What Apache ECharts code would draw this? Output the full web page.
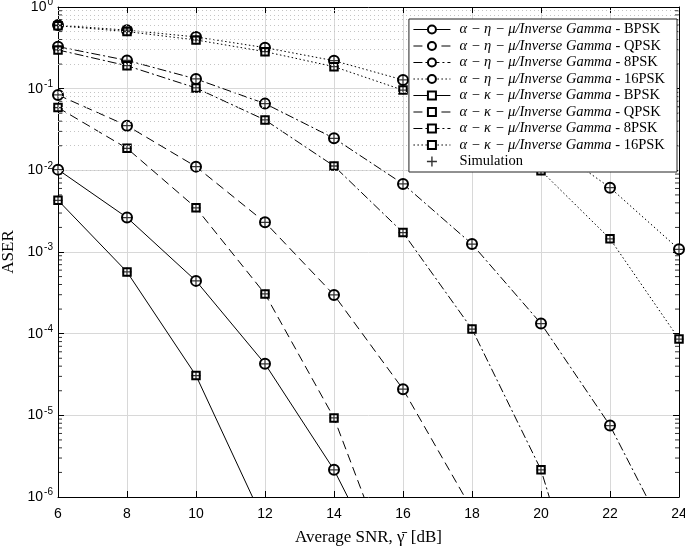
<!DOCTYPE html>
<html>
<head>
<meta charset="utf-8">
<script src="https://cdn.jsdelivr.net/npm/echarts@6/dist/echarts.min.js"></script>
<style>
html, body { margin: 0; padding: 0; background: #fff; }
#chart { width: 685px; height: 550px; }
</style>
</head>
<body>
<div id="chart"></div>
<script>
// average SNR in dB
const snr = [6, 8, 10, 12, 14, 16, 18, 20, 22, 24];
const yExponents = [-6, -5, -4, -3, -2, -1, 0];

const etaModel = 'α − η − μ/Inverse Gamma';
const kappaModel = 'α − κ − μ/Inverse Gamma';

// ASER, alpha-eta-mu / inverse gamma
const etaBPSK = [1.02e-2, 2.64e-3, 4.43e-4, 4.27e-5, 2.15e-6, 4.6e-8];
const etaQPSK = [8.37e-2, 3.52e-2, 1.11e-2, 2.31e-3, 2.98e-4, 2.09e-5, 7.0e-7];
const eta8PSK = [0.327, 0.222, 0.1315, 6.56e-2, 2.47e-2, 6.82e-3, 1.25e-3, 1.33e-4, 7.5e-6, 1.7e-7];
const eta16PSK = [0.60, 0.52, 0.43, 0.318, 0.22, 0.128, 0.064, 0.0245, 6.14e-3, 1.08e-3];

// ASER, alpha-kappa-mu / inverse gamma
const kappaBPSK = [4.3e-3, 5.7e-4, 3.07e-5, 4.7e-7];
const kappaQPSK = [5.86e-2, 1.86e-2, 3.47e-3, 3.07e-4, 9.3e-6, 5.5e-8];
const kappa8PSK = [0.298, 0.191, 0.102, 4.14e-2, 1.13e-2, 1.73e-3, 1.14e-4, 2.15e-6, 3.6e-9];
const kappa16PSK = [0.59, 0.50, 0.395, 0.284, 0.186, 0.096, 0.0384, 9.9e-3, 1.45e-3, 8.6e-5];

const curves = [
  { name: etaModel + ' - BPSK', data: etaBPSK, symbol: 'emptyCircle', type: 'solid' },
  { name: etaModel + ' - QPSK', data: etaQPSK, symbol: 'emptyCircle', type: [9, 5] },
  { name: etaModel + ' - 8PSK', data: eta8PSK, symbol: 'emptyCircle', type: [9, 3, 2, 3] },
  { name: etaModel + ' - 16PSK', data: eta16PSK, symbol: 'emptyCircle', type: [1.5, 2.5] },
  { name: kappaModel + ' - BPSK', data: kappaBPSK, symbol: 'emptyRect', type: 'solid' },
  { name: kappaModel + ' - QPSK', data: kappaQPSK, symbol: 'emptyRect', type: [9, 5] },
  { name: kappaModel + ' - 8PSK', data: kappa8PSK, symbol: 'emptyRect', type: [9, 3, 2, 3] },
  { name: kappaModel + ' - 16PSK', data: kappa16PSK, symbol: 'emptyRect', type: [1.5, 2.5] }
];

const yMin = 1e-6, yMax = 1;
const plus = 'path://M4.3,0H5.7V4.3H10V5.7H5.7V10H4.3V5.7H0V4.3H4.3Z';

// minor decade lines 2..9 x 10^k
const minorVals = [];
yExponents.slice(0, -1).forEach(e => {
  for (let m = 2; m <= 9; m++) minorVals.push(m * Math.pow(10, e));
});

const series = curves.map(c => ({
  name: c.name,
  type: 'line',
  data: c.data.map((v, i) => [snr[i], v]),
  symbol: c.symbol,
  symbolSize: c.symbol === 'emptyCircle' ? 10 : 7.5,
  showAllSymbol: true,
  color: '#000',
  itemStyle: { color: '#000', borderColor: '#000', borderWidth: 1.4 },
  lineStyle: { color: '#000', width: 1, type: c.type },
  emphasis: { disabled: true },
  animation: false,
  z: 2
}));

// simulation markers on the visible points
const simData = [];
curves.forEach(c => c.data.forEach((v, i) => {
  if (v >= yMin) simData.push([snr[i], v]);
}));
series.push({
  name: 'Simulation',
  type: 'scatter',
  data: simData,
  symbol: plus,
  symbolSize: 9,
  itemStyle: { color: '#000' },
  emphasis: { disabled: true },
  animation: false,
  z: 3
});

// minor ticks on left / right frame, and dotted minor grid
series.push({
  type: 'scatter',
  data: minorVals.map(v => [snr[0], v]),
  symbol: 'rect',
  symbolSize: [4, 1],
  symbolOffset: [2, 0],
  itemStyle: { color: '#000' },
  clip: false,
  silent: true,
  animation: false,
  markLine: {
    silent: true,
    symbol: 'none',
    label: { show: false },
    lineStyle: { color: '#c4c4c4', width: 1, type: [1, 3] },
    data: minorVals.map(v => ({ yAxis: v })),
    animation: false
  },
  z: 1
});
series.push({
  type: 'scatter',
  data: minorVals.map(v => [snr[snr.length - 1], v]),
  symbol: 'rect',
  symbolSize: [4, 1],
  symbolOffset: [-2, 0],
  itemStyle: { color: '#000' },
  clip: false,
  silent: true,
  animation: false,
  z: 1
});

const legendNames = curves.map(c => c.name).concat(['Simulation']);

const chart = echarts.init(document.getElementById('chart'));
chart.setOption({
  animation: false,
  backgroundColor: '#fff',
  grid: { left: 58, right: 6, top: 7, bottom: 53, outerBoundsMode: 'none', containLabel: false },
  legend: {
    orient: 'vertical',
    right: 8,
    top: 19,
    z: 10,
    itemWidth: 37,
    itemHeight: 10,
    itemGap: 1.5,
    padding: [3, 12, 3, 4],
    backgroundColor: '#fff',
    borderColor: '#222',
    borderWidth: 1,
    selectedMode: false,
    lineStyle: { width: 1 },
    data: legendNames.map(n => n === 'Simulation' ? { name: n, icon: plus } : { name: n }),
    formatter: name => {
      const k = name.lastIndexOf(' - ');
      if (k < 0) return name;
      return '{m|' + name.slice(0, k) + '}' + name.slice(k);
    },
    textStyle: {
      fontFamily: 'Liberation Serif',
      fontSize: 14.5,
      lineHeight: 14,
      color: '#000',
      padding: [0, 0, 0, 4],
      rich: {
        m: { fontFamily: 'Liberation Serif', fontStyle: 'italic', fontSize: 14.5, lineHeight: 14, color: '#000' }
      }
    }
  },
  xAxis: [{
    type: 'value',
    min: 6,
    max: 24,
    interval: 2,
    name: 'Average SNR, {g|γ̄} [dB]',
    nameLocation: 'middle',
    nameGap: 32,
    nameTextStyle: {
      fontFamily: 'Liberation Serif', fontSize: 17, color: '#000',
      rich: { g: { fontFamily: 'Liberation Serif', fontSize: 17, color: '#000', padding: [0, 2, 0, 0] } }
    },
    axisLine: { lineStyle: { color: '#000', width: 1 } },
    axisTick: { inside: true, length: 6, lineStyle: { color: '#000' } },
    axisLabel: { color: '#000', fontFamily: 'Liberation Sans', fontSize: 14, margin: 10 },
    splitLine: { show: true, lineStyle: { color: '#d8d8d8', width: 1 } }
  }, {
    type: 'value',
    position: 'top',
    min: 6,
    max: 24,
    interval: 2,
    axisLine: { lineStyle: { color: '#000', width: 1 } },
    axisTick: { inside: true, length: 6, lineStyle: { color: '#000' } },
    axisLabel: { show: false },
    splitLine: { show: false }
  }],
  yAxis: [{
    type: 'log',
    logBase: 10,
    min: yMin,
    max: yMax,
    splitNumber: 6,
    name: 'ASER',
    nameLocation: 'middle',
    nameGap: 33,
    nameTextStyle: { fontFamily: 'Liberation Serif', fontSize: 17, color: '#000' },
    axisLine: { lineStyle: { color: '#000', width: 1 } },
    axisTick: { inside: true, length: 6, lineStyle: { color: '#000' } },
    axisLabel: {
      margin: 5,
      formatter: v => '{b|10}{s|' + Math.round(Math.log10(v)) + '}',
      rich: {
        b: { fontFamily: 'Liberation Sans', fontSize: 14, color: '#000' },
        s: { fontFamily: 'Liberation Sans', fontSize: 10, color: '#000', padding: [0, 0, 9, 1] }
      }
    },
    splitLine: { show: true, lineStyle: { color: '#d8d8d8', width: 1 } }
  }, {
    type: 'log',
    logBase: 10,
    min: yMin,
    max: yMax,
    splitNumber: 6,
    position: 'right',
    axisLine: { lineStyle: { color: '#000', width: 1 } },
    axisTick: { inside: true, length: 6, lineStyle: { color: '#000' } },
    axisLabel: { show: false },
    splitLine: { show: false }
  }],
  series: series
});
</script>
</body>
</html>
